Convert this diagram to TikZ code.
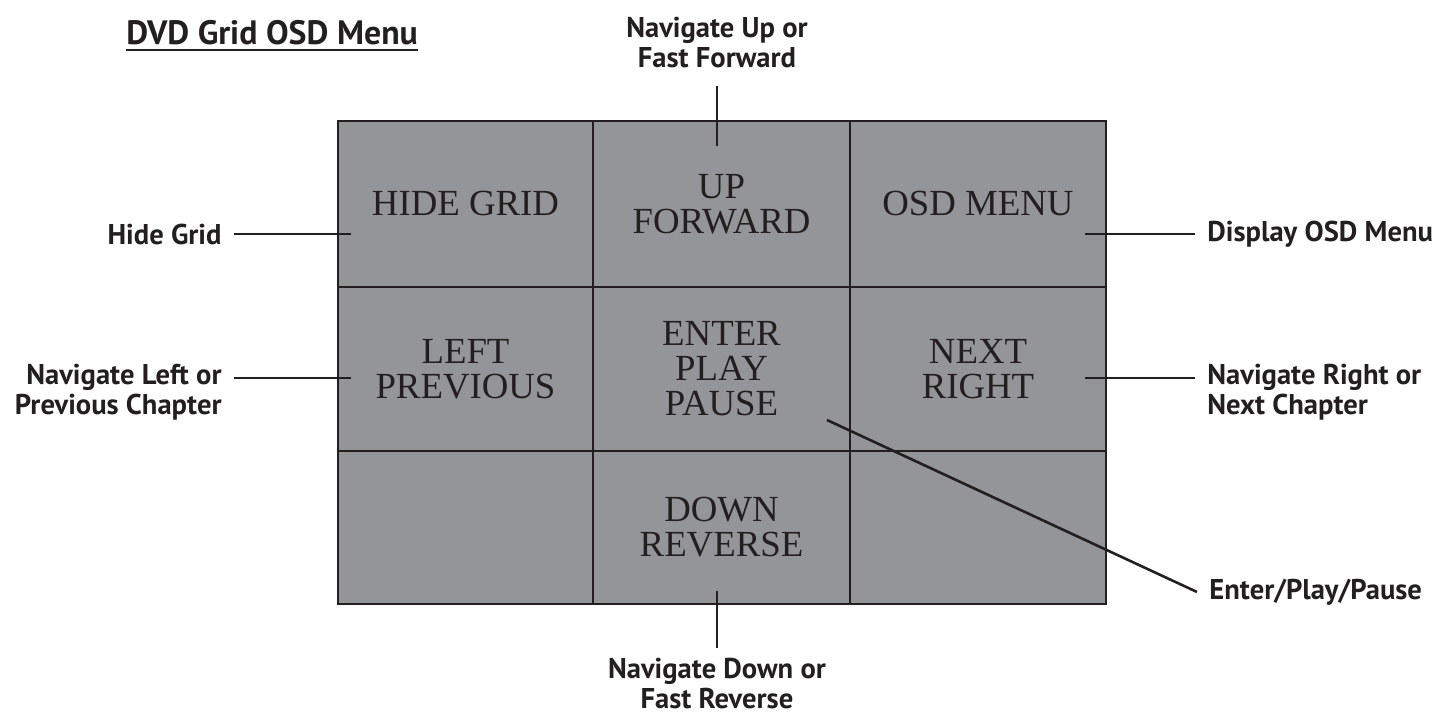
\documentclass[tikz,border=0pt]{standalone}
\usepackage{fontspec}
\setmainfont{Liberation Serif}
\newfontfamily\calloutfamily{PT Sans}
\definecolor{cellgray}{HTML}{939598}
\definecolor{ink}{HTML}{231F20}
\tikzset{
  cell/.style={draw=ink, fill=cellgray, line width=1.4pt, inner sep=0pt,
    align=center, text=ink, font=\fontsize{18.4}{17.5}\selectfont},
  callout/.style={font=\calloutfamily\bfseries\fontsize{14.3}{15}\selectfont,
    text=ink, inner xsep=6pt, inner ysep=0pt},
  lead/.style={draw=ink, line width=1.3pt}
}
\begin{document}
\begin{tikzpicture}[x=0.5pt, y=-0.5pt]
  \useasboundingbox (0,0) rectangle (1448,715);
  % grid cells, outer columns first
  \node[cell, minimum width=127.5pt, minimum height=83pt] (hide) at (465.5,204) {HIDE GRID};
  \node[cell, minimum width=127.5pt, minimum height=82pt] (left) at (465.5,369) {LEFT\\PREVIOUS};
  \node[cell, minimum width=127.5pt, minimum height=76.5pt] (blankl) at (465.5,527.5) {};
  \node[cell, minimum width=128pt, minimum height=83pt] (osd) at (978,204) {OSD MENU};
  \node[cell, minimum width=128pt, minimum height=82pt] (next) at (978,369) {NEXT\\RIGHT};
  \node[cell, minimum width=128pt, minimum height=76.5pt] (blankr) at (978,527.5) {};
  \node[cell, minimum width=128.5pt, minimum height=83pt] (up) at (721.5,204) {UP\\FORWARD};
  \node[cell, minimum width=128.5pt, minimum height=82pt] (enter) at (721.5,369) {ENTER\\PLAY\\PAUSE};
  \node[cell, minimum width=128.5pt, minimum height=76.5pt] (down) at (721.5,527.5) {DOWN\\REVERSE};

  % title
  \node[callout, font=\calloutfamily\bfseries\fontsize{16.9}{17}\selectfont, inner sep=0pt,
    anchor=base west] (title) at (126,45) {DVD Grid OSD Menu};
  \draw[ink, line width=1.2pt] ([yshift=-2.6pt]title.base west) -- ([yshift=-2.6pt]title.base east);

  % callouts
  \node[callout, anchor=east] (hidelbl) at (234,234) {Hide Grid};
  \node[callout, anchor=north east, align=right] (leftlbl) at (234,364) {Navigate Left or\\Previous Chapter};
  \node[callout, anchor=west] (osdlbl) at (1195,234) {Display OSD Menu};
  \node[callout, anchor=north west, align=left] (nextlbl) at (1195,364) {Navigate Right or\\Next Chapter};
  \node[callout, anchor=west] (enterlbl) at (1197,592) {Enter/Play/Pause};
  \node[callout, anchor=south, align=center, inner ysep=9pt] (uplbl) at (717,86) {Navigate Up or\\Fast Forward};
  \node[callout, anchor=north, align=center, inner ysep=5pt] (downlbl) at (717,648) {Navigate Down or\\Fast Reverse};

  \coordinate (hidepin) at (351,234);
  \coordinate (leftpin) at (351,378);
  \coordinate (osdpin) at (1085,234);
  \coordinate (nextpin) at (1085,378);
  \coordinate (enterpin) at (827,420);
  \coordinate (uppin) at (717,146);
  \coordinate (downpin) at (717,591);

  \begin{scope}[lead]
    \draw (hidelbl.east) -- (hidepin);
    \draw (leftpin -| leftlbl.east) -- (leftpin);
    \draw (osdlbl.west) -- (osdpin);
    \draw (nextpin -| nextlbl.west) -- (nextpin);
    \draw (enterpin) -- (enterlbl.west);
    \draw (uplbl.south) -- (uppin);
    \draw (downpin) -- (downlbl.north);
  \end{scope}
\end{tikzpicture}
\end{document}
